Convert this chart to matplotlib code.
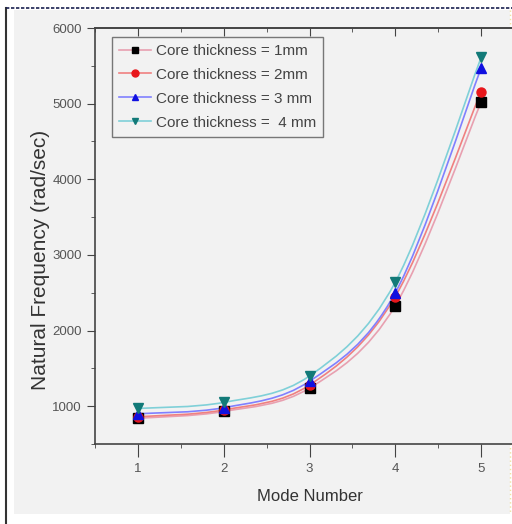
import matplotlib
matplotlib.use("Agg")
import matplotlib.pyplot as plt
from matplotlib.path import Path
from matplotlib.patches import PathPatch, Rectangle
from matplotlib.ticker import MultipleLocator

plt.rcParams['font.family'] = ['Liberation Sans', 'DejaVu Sans']

# data
modes = [1, 2, 3, 4, 5]
core_1mm = [840, 930, 1240, 2330, 5020]
core_2mm = [860, 950, 1280, 2450, 5160]
core_3mm = [900, 980, 1330, 2500, 5470]
core_4mm = [970, 1050, 1400, 2640, 5610]

labels = ['Core thickness = 1mm', 'Core thickness = 2mm',
          'Core thickness = 3 mm', 'Core thickness =  4 mm']
series = [core_1mm, core_2mm, core_3mm, core_4mm]
markers = ['s', 'o', '^', 'v']
mcolors = ['#000000', '#e8161b', '#1010e0', '#127a78']
lcolors = ['#e8a0b0', '#f08080', '#8080ff', '#7fd0d8']


def smooth_path(x, y):
    # Catmull-Rom curve through the points, drawn as cubic bezier segments
    verts = [(x[0], y[0])]
    codes = [Path.MOVETO]
    n = len(x)
    for i in range(n - 1):
        x0, y0 = (x[i - 1], y[i - 1]) if i > 0 else (x[i], y[i])
        x3, y3 = (x[i + 2], y[i + 2]) if i + 2 < n else (x[i + 1], y[i + 1])
        x1, y1 = x[i], y[i]
        x2, y2 = x[i + 1], y[i + 1]
        c1 = (x1 + (x2 - x0) / 6, y1 + (y2 - y0) / 6)
        c2 = (x2 - (x3 - x1) / 6, y2 - (y3 - y1) / 6)
        verts += [c1, c2, (x2, y2)]
        codes += [Path.CURVE4] * 3
    return Path(verts, codes)


W, H = 512, 524
fig = plt.figure(figsize=(W / 100, H / 100), dpi=100)
fig.patch.set_facecolor('white')

# background axes for the screenshot panel and frame lines
bg = fig.add_axes([0, 0, 1, 1], zorder=-5)
bg.set_xlim(0, W)
bg.set_ylim(H, 0)
bg.axis('off')
bg.add_patch(Rectangle((14, 10), 496, 504, facecolor='#f2f2f2', edgecolor='none'))
bg.plot([6, 6], [8, H], color='#333333', lw=1.5)
bg.plot([6, W], [8, 8], color='#1a2050', lw=1.2, ls=(0, (2, 1)))
bg.plot([510, 510], [10, 514], color='#f0e0a0', lw=1, ls=(0, (1, 2)))

ax = fig.add_axes([95 / W, 1 - 444 / H, 429 / W, 416 / H])
ax.set_facecolor('#f2f2f2')

for ys, mk, mc, lc, lab in zip(series, markers, mcolors, lcolors, labels):
    ax.add_patch(PathPatch(smooth_path(modes, ys), facecolor='none', edgecolor=lc, lw=1.2, zorder=2))
    ax.plot(modes, ys, ls='none', marker=mk, color=mc, ms=6.5, zorder=3)
    ax.plot([], [], color=lc, marker=mk, mfc=mc, mec=mc, ms=5, lw=1.2, label=lab)

ax.set_xlim(0.5, 5.5)
ax.set_ylim(500, 6000)
ax.set_xticks(modes)
ax.xaxis.set_minor_locator(MultipleLocator(0.5))
ax.yaxis.set_major_locator(MultipleLocator(1000))
ax.yaxis.set_minor_locator(MultipleLocator(500))
ax.tick_params(axis='both', which='major', labelsize=9.5, labelcolor='#555555', length=6, color='#444444')
ax.tick_params(axis='both', which='minor', length=3, color='#444444')
ax.tick_params(axis='both', which='both', direction='out')
ax.tick_params(axis='x', which='major', length=9, pad=5)
top = ax.secondary_xaxis('top')
top.set_xticks(modes)
top.xaxis.set_minor_locator(MultipleLocator(0.5))
top.tick_params(which='major', direction='in', labeltop=False, length=6, color='#444444')
top.tick_params(which='minor', direction='in', length=3, color='#444444')
top.spines['top'].set_color('#444444')
top.spines['top'].set_linewidth(1.2)
for side in ['left', 'bottom', 'top']:
    ax.spines[side].set_color('#444444')
    ax.spines[side].set_linewidth(1.2)
ax.spines['right'].set_visible(False)

ax.set_xlabel('Mode Number', fontsize=12, color='#333333')
ax.xaxis.set_label_coords((310 - 95) / 429, -(489 - 444) / 416)
ax.set_ylabel('Natural Frequency (rad/sec)', fontsize=15, color='#333333')
ax.yaxis.set_label_coords(-(95 - 50) / 429, (444 - 260) / 416)

leg = ax.legend(loc='upper left', bbox_to_anchor=((112 - 95) / 429, 1 - (37 - 28) / 416),
                fontsize=11, frameon=True,
                fancybox=False, edgecolor='#777777', facecolor='#f2f2f2', framealpha=1,
                handlelength=2.1, handletextpad=0.3, labelspacing=0.65, borderpad=0.45,
                borderaxespad=0)
for t in leg.get_texts():
    t.set_color('#444444')

fig.savefig('out.png', dpi=100, facecolor=fig.get_facecolor())
